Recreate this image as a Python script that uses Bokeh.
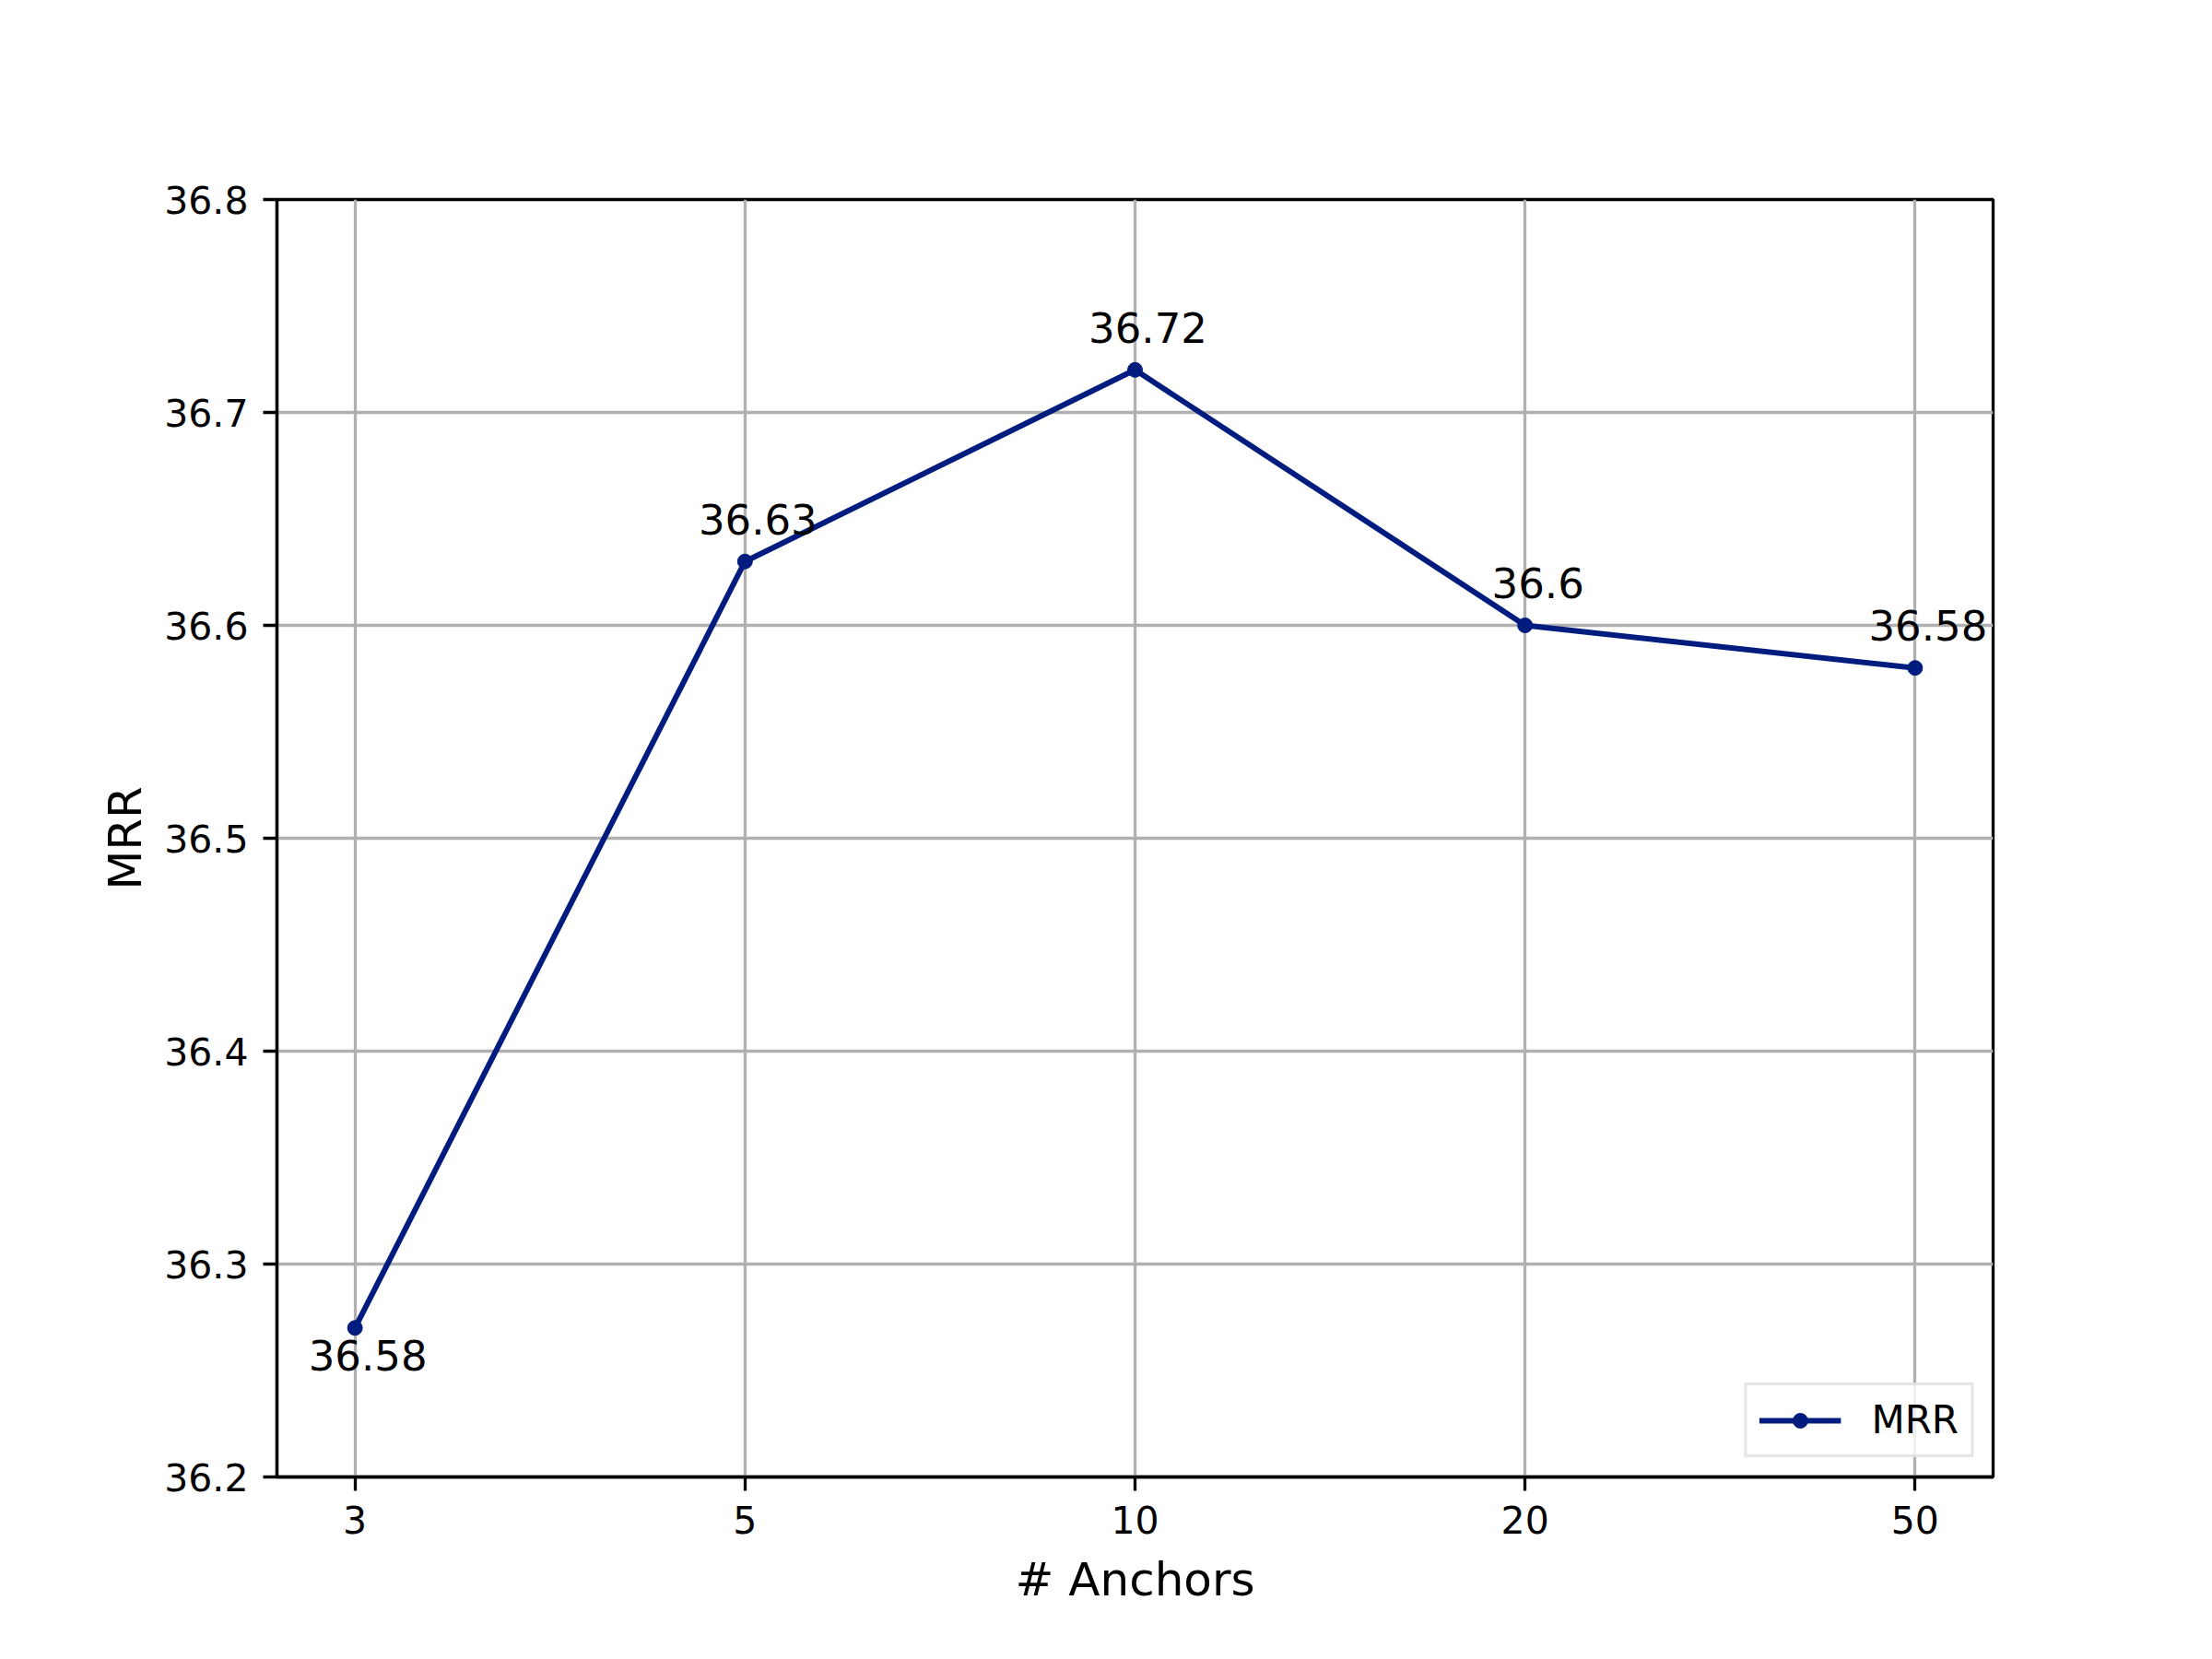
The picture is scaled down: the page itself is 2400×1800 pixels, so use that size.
from bokeh.plotting import figure
from bokeh.models import FixedTicker, PrintfTickFormatter, ColumnDataSource, Range1d, Legend
from bokeh.core.properties import value
from bokeh.embed import file_html
from bokeh.resources import INLINE

# data
anchors = ["3", "5", "10", "20", "50"]
mrr = [36.27, 36.63, 36.72, 36.60, 36.58]
point_labels = ["36.58", "36.63", "36.72", "36.6", "36.58"]
label_side = ["below", "above", "above", "above", "above"]
y_ticks = [36.2, 36.3, 36.4, 36.5, 36.6, 36.7, 36.8]

FONT = "DejaVu Sans"
COLOR = "#001c7f"

xs = list(range(len(anchors)))
src = ColumnDataSource(dict(x=xs, y=mrr))

p = figure(width=2384, height=1784, output_backend="svg", toolbar_location=None,
           x_range=Range1d(-0.2, len(anchors) - 1 + 0.2), y_range=Range1d(y_ticks[0], y_ticks[-1]),
           min_border_left=300, min_border_top=216, min_border_right=214, min_border_bottom=182)
p.frame_width = 1862
p.frame_height = 1386
p.background_fill_color = "white"
p.border_fill_color = "white"
p.outline_line_color = "black"
p.outline_line_width = 3.3

for ax in (p.xaxis[0], p.yaxis[0]):
    ax.axis_line_width = 3.3
    ax.axis_line_color = "black"
    ax.major_tick_line_width = 3.3
    ax.major_tick_in = 0
    ax.major_tick_out = 15
    ax.minor_tick_line_color = None
    ax.major_label_text_font = FONT
    ax.major_label_text_font_size = "41px"
    ax.major_label_text_color = "black"
    ax.axis_label_text_font = FONT
    ax.axis_label_text_font_size = "50px"
    ax.axis_label_text_font_style = "normal"
    ax.axis_label_text_color = "black"
    ax.major_label_standoff = 16

p.xaxis.ticker = FixedTicker(ticks=xs)
p.xaxis.major_label_overrides = {i: a for i, a in enumerate(anchors)}
p.xaxis.axis_label = "# Anchors"
p.xaxis.axis_label_standoff = 18
p.yaxis.ticker = FixedTicker(ticks=y_ticks)
p.yaxis.formatter = PrintfTickFormatter(format="%.1f")
p.yaxis.axis_label = "MRR"
p.yaxis.axis_label_standoff = 10

p.grid.grid_line_color = "#b0b0b0"
p.grid.grid_line_width = 3.3

ln = p.line("x", "y", source=src, line_color=COLOR, line_width=6)
sc = p.scatter("x", "y", source=src, size=16, fill_color=COLOR, line_color=COLOR)

above = [i for i, s in enumerate(label_side) if s == "above"]
below = [i for i, s in enumerate(label_side) if s == "below"]
p.text(x=[xs[i] for i in above], y=[mrr[i] for i in above], text=[point_labels[i] for i in above],
       x_offset=14, y_offset=-46, text_align="center", text_baseline="alphabetic",
       text_font=value(FONT), text_font_size="45px", text_color="black")
p.text(x=[xs[i] for i in below], y=[mrr[i] for i in below], text=[point_labels[i] for i in below],
       x_offset=14, y_offset=30, text_align="center", text_baseline="alphabetic",
       text_font=value(FONT), text_font_size="45px", text_color="black")

legend = Legend(items=[("MRR", [ln, sc])], location="bottom_right")
legend.margin = 21
legend.padding = 13
legend.glyph_width = 89
legend.glyph_height = 40
legend.label_standoff = 33
legend.label_text_font = FONT
legend.label_text_font_size = "42px"
legend.label_text_color = "black"
legend.border_line_color = "#cccccc"
legend.border_line_width = 3.3
legend.background_fill_alpha = 0.8
p.add_layout(legend, "center")

open("out.html", "w").write(file_html(p, INLINE))
